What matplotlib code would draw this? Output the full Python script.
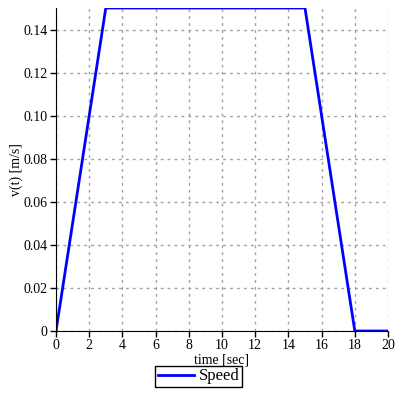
import matplotlib
matplotlib.use("Agg")
import matplotlib.pyplot as plt

# speed profile (trapezoid)
time = [0, 3, 15, 18, 20]
speed = [0, 0.15, 0.15, 0, 0]
xticks = [0, 2, 4, 6, 8, 10, 12, 14, 16, 18, 20]
yticks = [0, 0.02, 0.04, 0.06, 0.08, 0.10, 0.12, 0.14]
ylabels = ["0", "0.02", "0.04", "0.06", "0.08", "0.10", "0.12", "0.14"]

plt.rcParams['font.family'] = ['Liberation Serif', 'DejaVu Serif']
plt.rcParams['font.size'] = 10

fig = plt.figure(figsize=(4, 4), dpi=100)
ax = fig.add_axes([0.14, 0.1725, 0.83, 0.8075])
ax.plot(time, speed, color='#0000ff', lw=2, label='Speed')

ax.set_xlim(0, 20)
ax.set_ylim(0, 0.15)
ax.set_xticks(xticks)
ax.set_yticks(yticks)
ax.set_yticklabels(ylabels)
ax.grid(True, color='#a0a0a0', linestyle=(0, (2, 3)), lw=1)
for s in ['top', 'right']:
    ax.spines[s].set_visible(False)
ax.tick_params(length=4, width=1, pad=2)
ax.set_xlabel('time [sec]', labelpad=1)
ax.set_ylabel('v(t) [m/s]', labelpad=0.5)
ax.legend(loc='upper center', bbox_to_anchor=(0.43, -0.108), fancybox=False,
          edgecolor='black', framealpha=1, fontsize=12, handlelength=2.2,
          borderpad=0.15, handletextpad=0.3, borderaxespad=0)

fig.savefig('out.png', dpi=100)
